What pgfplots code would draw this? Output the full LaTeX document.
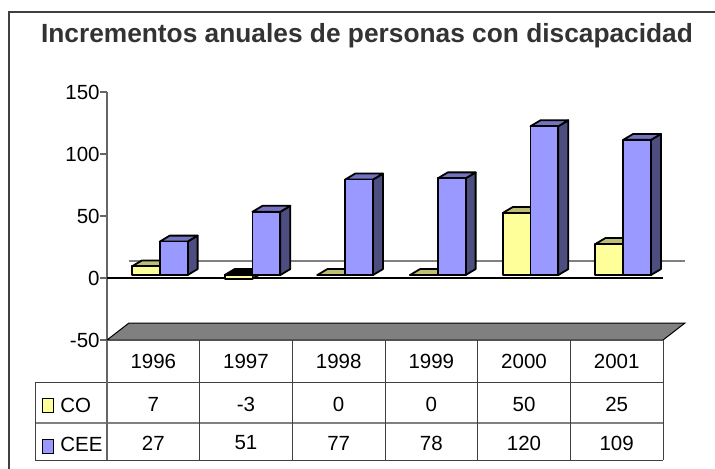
\documentclass[border=0pt]{standalone}
\usepackage{fontspec}
\setmainfont{Liberation Sans}
\usepackage{pgfplots}
\usepackage{pgfplotstable}
\pgfplotsset{compat=1.18}

\definecolor{coF}{RGB}{255,255,153}
\definecolor{coT}{RGB}{191,191,115}
\definecolor{coS}{RGB}{128,128,77}
\definecolor{ceeF}{RGB}{153,153,255}
\definecolor{ceeT}{RGB}{115,115,191}
\definecolor{ceeS}{RGB}{77,77,128}
\definecolor{framegray}{RGB}{64,64,64}
\definecolor{titlegray}{RGB}{51,51,51}

\pgfplotstableread{
x year co cee
0 1996 7 27
1 1997 -3 51
2 1998 0 77
3 1999 0 78
4 2000 50 120
5 2001 25 109
}\datatable

% bar depth and base (axis units)
\def\dx{0.108}
\def\dy{4.8}
\def\base{2.4}

% #1 left, #2 right, #3 value, #4 front, #5 top, #6 side colour
\newcommand{\cube}[6]{%
  \pgfmathsetmacro\xl{#1}%
  \pgfmathsetmacro\xr{#2}%
  \pgfmathsetmacro\xld{#1+\dx}%
  \pgfmathsetmacro\xrd{#2+\dx}%
  \pgfmathsetmacro\yb{min(#3,0)+\base}%
  \pgfmathsetmacro\yt{max(#3,0)+\base}%
  \pgfmathsetmacro\ybd{\yb+\dy}%
  \pgfmathsetmacro\ytd{\yt+\dy}%
  \pgfmathsetmacro\isneg{#3<0 ? 1 : 0}%
  \ifdim\isneg pt>0.5pt \def\topc{black}\else\def\topc{#5}\fi
  \edef\tmp{%
    \noexpand\addplot[fill=#6,draw=black,line width=0.9pt,line join=round]
      coordinates {(\xr,\yb) (\xrd,\ybd) (\xrd,\ytd) (\xr,\yt)} -- cycle;
    \noexpand\addplot[fill=\topc,draw=black,line width=0.9pt,line join=round]
      coordinates {(\xl,\yt) (\xr,\yt) (\xrd,\ytd) (\xld,\ytd)} -- cycle;
    \noexpand\addplot[fill=#4,draw=black,line width=0.9pt,line join=round]
      coordinates {(\xl,\yb) (\xr,\yb) (\xr,\yt) (\xl,\yt)} -- cycle;
  }\tmp
}

\begin{document}
\begin{tikzpicture}[x=0.5pt,y=0.5pt]
\useasboundingbox (0,0) rectangle (715,468);
\fill[white] (0,0) rectangle (715,468);

\begin{axis}[
    at={(53.5pt,64pt)}, anchor=south west,
    scale only axis, width=278pt, height=124pt,
    xmin=-0.5, xmax=5.5, ymin=-50, ymax=150,
    axis y line*=left, axis x line=none,
    y axis line style={black!60, line width=0.6pt},
    ytick={-50,0,50,100,150},
    ytick style={black!60, line width=0.6pt},
    tick align=outside, major tick length=3.5pt,
    yticklabel style={font=\fontsize{10.25}{12}\selectfont, inner sep=0pt, anchor=east},
    /pgf/number format/assume math mode=true,
    clip=false,
]
% floor and zero lines
\addplot[fill=black!50, draw=black, line width=0.5pt]
  coordinates {(-0.5,-50) (5.5,-50) (5.737,-36.3) (-0.263,-36.3)} -- cycle;
\addplot[black!50, line width=0.8pt] coordinates {(-0.263,13.7) (5.737,13.7)};
\addplot[black, line width=0.6pt] coordinates {(-0.5,0) (5.5,0)};

\pgfplotsforeachungrouped \i in {0,...,5}{%
  \pgfplotstablegetelem{\i}{co}\of\datatable \let\vco\pgfplotsretval
  \pgfplotstablegetelem{\i}{cee}\of\datatable \let\vcee\pgfplotsretval
  \pgfmathsetmacro\xa{\i-0.23}%
  \pgfmathsetmacro\xb{\i+0.07}%
  \pgfmathsetmacro\xc{\i+0.37}%
  \edef\cmd{\noexpand\cube{\xa}{\xb}{\vco}{coF}{coT}{coS}%
            \noexpand\cube{\xb}{\xc}{\vcee}{ceeF}{ceeT}{ceeS}}\cmd
}
\end{axis}

% title and frame
\node[anchor=base, text=titlegray, font=\bfseries\fontsize{13.15}{15}\selectfont]
  at (367,426) {Incrementos anuales de personas con discapacidad};
\draw[framegray, line width=1pt] (9,-4) -- (9,456) -- (720,456);

% data table
\draw[black!75, line width=0.5pt] (35,86) -- (663,86);
\draw[black!50, line width=1pt] (35,45) -- (663,45);
\draw[black!75, line width=0.5pt] (35,8) -- (663,8);
\draw[black!75, line width=0.5pt] (35,8) -- (35,86);
\draw[black!60, line width=0.6pt] (107,8) -- (107,128);
\foreach \k in {1,...,6}{
  \draw[black!75, line width=0.5pt] ({107+92.667*\k},8) -- ({107+92.667*\k},128);
}
\foreach \k in {0,...,5}{
  \pgfplotstablegetelem{\k}{year}\of\datatable
  \node[font=\fontsize{10.25}{12}\selectfont] at ({153.33+92.667*\k},107) {\pgfplotsretval};
  \pgfplotstablegetelem{\k}{co}\of\datatable
  \node[font=\fontsize{10.25}{12}\selectfont] at ({153.33+92.667*\k},64) {\pgfplotsretval};
  \pgfplotstablegetelem{\k}{cee}\of\datatable
  \node[font=\fontsize{10.25}{12}\selectfont] at ({153.33+92.667*\k},25) {\pgfplotsretval};
}
\draw[fill=coF, draw=black, line width=0.5pt] (42,56) rectangle (53,70);
\node[anchor=west, inner sep=0pt, font=\fontsize{10.25}{12}\selectfont] at (60,63) {CO};
\draw[fill=ceeF, draw=black, line width=0.5pt] (42,15) rectangle (53,29);
\node[anchor=west, inner sep=0pt, font=\fontsize{10.25}{12}\selectfont] at (60,24) {CEE};
\end{tikzpicture}
\end{document}
